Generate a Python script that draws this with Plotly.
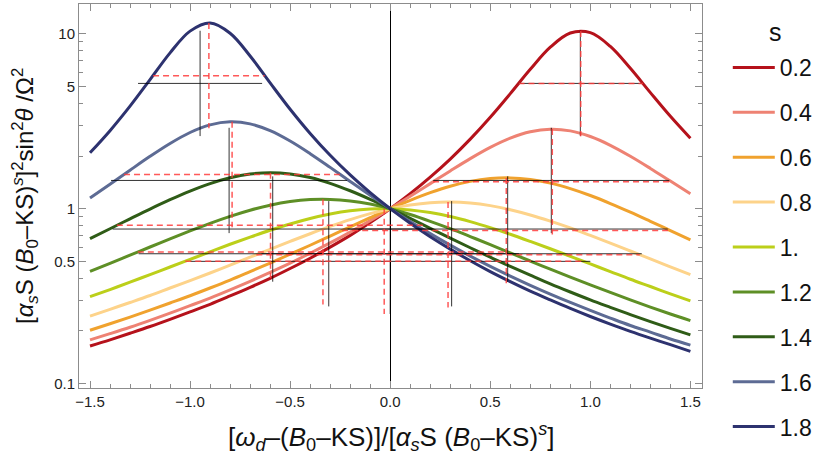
import plotly.graph_objects as go

# ---------------- data ----------------
s_labels = ["0.2", "0.4", "0.6", "0.8", "1.", "1.2", "1.4", "1.6", "1.8"]
x_vals = [-1.5, -1.4, -1.3, -1.2, -1.1, -1.0, -0.9, -0.8, -0.7, -0.6, -0.5, -0.4, -0.3, -0.2, -0.1,
          0.0, 0.1, 0.2, 0.3, 0.4, 0.5, 0.6, 0.7, 0.8, 0.9, 1.0, 1.1, 1.2, 1.3, 1.4, 1.5]

y_s02 = [0.164, 0.178, 0.194, 0.212, 0.233, 0.257, 0.284, 0.317, 0.355, 0.400, 0.455, 0.521, 0.603, 0.704, 0.834,
         1.0, 1.219, 1.515, 1.922, 2.499, 3.333, 4.548, 6.264, 8.378, 10.10, 10.14, 8.463, 6.343, 4.607, 3.373, 2.527]
y_s04 = [0.178, 0.193, 0.210, 0.230, 0.253, 0.279, 0.308, 0.343, 0.384, 0.432, 0.488, 0.556, 0.637, 0.735, 0.855,
         1.0, 1.177, 1.391, 1.644, 1.933, 2.241, 2.533, 2.754, 2.847, 2.785, 2.585, 2.303, 1.994, 1.699, 1.438, 1.217]
y_s06 = [0.202, 0.220, 0.240, 0.263, 0.289, 0.318, 0.352, 0.391, 0.437, 0.489, 0.549, 0.618, 0.697, 0.788, 0.889,
         1.0, 1.117, 1.235, 1.344, 1.432, 1.486, 1.500, 1.469, 1.400, 1.302, 1.189, 1.070, 0.955, 0.847, 0.750, 0.664]
y_s08 = [0.243, 0.266, 0.291, 0.319, 0.352, 0.388, 0.429, 0.476, 0.528, 0.586, 0.650, 0.719, 0.792, 0.866, 0.937,
         1.0, 1.050, 1.082, 1.091, 1.077, 1.041, 0.987, 0.921, 0.849, 0.776, 0.703, 0.636, 0.573, 0.516, 0.465, 0.420]
y_s10 = [0.314, 0.345, 0.380, 0.420, 0.464, 0.513, 0.567, 0.626, 0.688, 0.753, 0.818, 0.879, 0.932, 0.973, 0.996,
         1.0, 0.984, 0.950, 0.902, 0.843, 0.779, 0.714, 0.650, 0.590, 0.534, 0.483, 0.437, 0.395, 0.359, 0.326, 0.297]
y_s12 = [0.438, 0.487, 0.543, 0.604, 0.673, 0.747, 0.825, 0.904, 0.980, 1.047, 1.098, 1.127, 1.130, 1.108, 1.063,
         1.0, 0.926, 0.847, 0.769, 0.693, 0.623, 0.559, 0.502, 0.451, 0.406, 0.367, 0.332, 0.301, 0.274, 0.250, 0.229]
y_s14 = [0.675, 0.768, 0.875, 0.995, 1.125, 1.261, 1.391, 1.502, 1.578, 1.606, 1.580, 1.506, 1.396, 1.266, 1.131,
         1.0, 0.880, 0.772, 0.679, 0.598, 0.528, 0.468, 0.417, 0.372, 0.334, 0.301, 0.273, 0.248, 0.226, 0.207, 0.190]
y_s16 = [1.151, 1.379, 1.659, 1.991, 2.360, 2.726, 3.012, 3.136, 3.053, 2.792, 2.436, 2.063, 1.722, 1.431, 1.193,
         1.0, 0.845, 0.720, 0.619, 0.536, 0.468, 0.412, 0.365, 0.325, 0.291, 0.262, 0.237, 0.215, 0.197, 0.180, 0.166]
y_s18 = [2.086, 2.791, 3.854, 5.466, 7.773, 10.35, 11.52, 10.07, 7.463, 5.237, 3.701, 2.691, 2.019, 1.559, 1.235,
         1.0, 0.825, 0.691, 0.587, 0.504, 0.437, 0.383, 0.338, 0.301, 0.269, 0.242, 0.219, 0.199, 0.182, 0.167, 0.153]
series = [y_s02, y_s04, y_s06, y_s08, y_s10, y_s12, y_s14, y_s16, y_s18]

# approximate (black) peak markers: centre, peak height, half width
approx_center = [0.95, 0.805, 0.587, 0.307, 0.0, -0.307, -0.587, -0.805, -0.95]
approx_peak = [10.4, 2.9, 1.53, 1.105, 1.0, 1.105, 1.53, 2.9, 10.4]
approx_halfwidth = [0.31, 0.59, 0.80, 0.95, 1.0, 0.95, 0.80, 0.59, 0.31]
# exact (red dashed) peak markers
exact_center = [0.952, 0.81, 0.58, 0.289, -0.03, -0.336, -0.598, -0.79, -0.906]
exact_peak = [10.38, 2.85, 1.50, 1.091, 1.0, 1.132, 1.606, 3.137, 11.52]
exact_halfwidth = [0.311, 0.596, 0.82, 0.958, 0.994, 0.925, 0.768, 0.54, 0.279]

x_tick_vals = [-1.5, -1.0, -0.5, 0.0, 0.5, 1.0, 1.5]
x_tick_text = ["\u22121.5", "\u22121.0", "\u22120.5", "0.0", "0.5", "1.0", "1.5"]
y_tick_vals = [0.1, 0.5, 1, 5, 10]
y_tick_text = ["0.1", "0.5", "1", "5", "10"]
y_minor_vals = [0.2, 0.3, 0.4, 0.6, 0.7, 0.8, 0.9, 2, 3, 4, 6, 7, 8, 9]

colors = ["#B5121B", "#EE8273", "#F0A22E", "#FDD38A", "#BCCF1A", "#5E8F26", "#2F5C17", "#5D6B94", "#2D326F"]

# ---------------- figure ----------------
FONT = "Liberation Sans, Arial, sans-serif"
fig = go.Figure()

for lab, ys, col in zip(s_labels, series, colors):
    fig.add_trace(go.Scatter(x=x_vals, y=ys, mode="lines", name=lab, legendgroup=lab,
                             line=dict(color=col, width=3, shape="spline", smoothing=1.0)))


def cross_xy(cs, ps, ws):
    xx, yy = [], []
    for c, p, w in zip(cs, ps, ws):
        xx += [c, c, None, c - w, c + w, None]
        yy += [p, p / 4, None, p / 2, p / 2, None]
    return xx, yy


bx, by = cross_xy(approx_center, approx_peak, approx_halfwidth)
rx, ry = cross_xy(exact_center, exact_peak, exact_halfwidth)
fig.add_trace(go.Scatter(x=bx, y=by, mode="lines", showlegend=False, hoverinfo="skip",
                         line=dict(color="rgba(0,0,0,0.8)", width=1)))
fig.add_trace(go.Scatter(x=rx, y=ry, mode="lines", showlegend=False, hoverinfo="skip",
                         line=dict(color="rgba(255,60,60,0.85)", width=1.5, dash="6px,4px")))

axis_common = dict(showline=True, linecolor="#8c8c8c", linewidth=1, mirror="allticks",
                   ticks="inside", ticklen=7, tickcolor="#8c8c8c", tickwidth=1,
                   showgrid=False, tickfont=dict(family=FONT, size=15, color="#222"))

fig.update_xaxes(range=[-1.555, 1.558], tickmode="array", tickvals=x_tick_vals, ticktext=x_tick_text,
                 zeroline=True, zerolinecolor="black", zerolinewidth=1,
                 minor=dict(dtick=0.1, tick0=0, ticks="inside", ticklen=4, tickcolor="#8c8c8c"),
                 **axis_common)
fig.update_yaxes(type="log", range=[-1.025, 1.170], tickmode="array", tickvals=y_tick_vals,
                 ticktext=y_tick_text,
                 minor=dict(tickmode="array", tickvals=y_minor_vals, ticks="inside", ticklen=4,
                            tickcolor="#8c8c8c"),
                 **axis_common)

fig.add_annotation(text="[<i>\u03c9</i><sub><i>d</i></sub>\u2013(<i>B</i><sub>0</sub>\u2013KS)]/"
                        "[<i>\u03b1</i><sub><i>s</i></sub>S (<i>B</i><sub>0</sub>\u2013KS)<sup><i>s</i></sup>]",
                   xref="paper", yref="paper", x=0.5, y=-0.128, xanchor="center", yanchor="middle",
                   showarrow=False, font=dict(family=FONT, size=26, color="#111"))
fig.add_annotation(text="[<i>\u03b1</i><sub><i>s</i></sub>S (<i>B</i><sub>0</sub>\u2013KS)<sup><i>s</i></sup>]"
                        "<sup>2</sup>sin<sup>2</sup><i>\u03b8</i> /\u03a9<sup>2</sup>",
                   xref="paper", yref="paper", x=-0.0867, y=0.5, xanchor="center", yanchor="middle",
                   textangle=-90, showarrow=False, font=dict(family=FONT, size=24, color="#111"))
# legend heading
fig.add_annotation(text="s", xref="paper", yref="paper", x=1.1177, y=0.9258,
                   xanchor="center", yanchor="middle", showarrow=False,
                   font=dict(family=FONT, size=25, color="#111"))

fig.update_layout(
    width=830, height=462,
    margin=dict(l=79, r=128, t=4, b=74),
    plot_bgcolor="white", paper_bgcolor="white",
    legend=dict(x=1.0414, y=0.8907, xanchor="left", yanchor="top", tracegroupgap=12,
                maxheight=460, itemwidth=42,
                font=dict(family=FONT, size=23, color="#111"),
                bgcolor="rgba(0,0,0,0)"),
)

fig.write_html("out.html", config={"displayModeBar": False},
               post_script="document.body.style.margin='0px';")
